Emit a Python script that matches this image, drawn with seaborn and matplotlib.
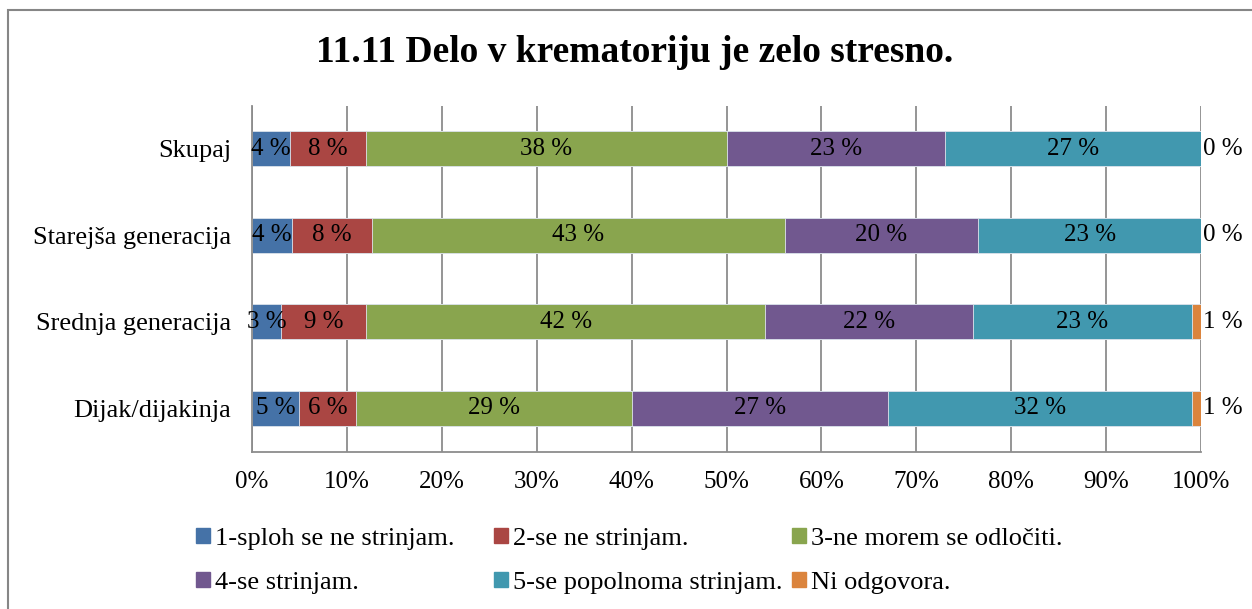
import matplotlib
matplotlib.use("Agg")
import matplotlib.pyplot as plt
import matplotlib.patches as mpatches
import numpy as np
import pandas as pd
import seaborn as sns

# data (percent of answers)
groups = ["Skupaj", "Starejša generacija", "Srednja generacija", "Dijak/dijakinja"]
answers = ["1-sploh se ne strinjam.", "2-se ne strinjam.", "3-ne morem se odločiti.",
           "4-se strinjam.", "5-se popolnoma strinjam.", "Ni odgovora."]
a1 = [4.0, 4.2, 3.1, 5.0]
a2 = [8.0, 8.4, 8.9, 6.0]
a3 = [38.0, 43.4, 42.1, 29.0]
a4 = [23.0, 20.4, 21.9, 27.0]
a5 = [27.0, 23.4, 23.0, 32.0]
a6 = [0.0, 0.0, 1.0, 1.0]
colors = ["#4572A7", "#AA4643", "#89A54E", "#71588F", "#4198AF", "#DB843D"]

sns.set_style("white")
plt.rcParams["font.family"] = ["Liberation Serif", "DejaVu Serif"]
plt.rcParams["text.color"] = "black"
plt.rcParams["xtick.color"] = "black"
plt.rcParams["ytick.color"] = "black"

df = pd.DataFrame({"group": groups, answers[0]: a1, answers[1]: a2, answers[2]: a3,
                   answers[3]: a4, answers[4]: a5, answers[5]: a6})
vals = df[answers].to_numpy()
vals = vals / vals.sum(axis=1, keepdims=True) * 100
cum = np.cumsum(vals, axis=1)

fig = plt.figure(figsize=(12.52, 6.09), dpi=100)
ax = fig.add_axes([252 / 1252, 1 - 451.5 / 609, 949 / 1252, 346 / 609])

# stacked bars: draw cumulative totals from the last series back to the first
for i in range(len(answers) - 1, -1, -1):
    sns.barplot(x=cum[:, i], y=df["group"], color=colors[i], orient="h", width=0.4,
                saturation=1, ax=ax, edgecolor="#dfe6ee", linewidth=0.6)

for r in range(len(groups)):
    for i in range(len(answers)):
        v = vals[r, i]
        txt = f"{v:.0f} %"
        if i == len(answers) - 1:
            ax.text(100.2, r, txt, ha="left", va="center", fontsize=18)
        else:
            ax.text(cum[r, i] - v / 2, r, txt, ha="center", va="center", fontsize=18)

ax.set_xlim(0, 100)
ax.set_ylim(3.5, -0.5)
ax.set_xticks(np.arange(0, 101, 10))
ax.set_xticklabels([f"{t}%" for t in range(0, 101, 10)])
ax.xaxis.grid(True, color="#8c8c8c", linewidth=1.3)
ax.set_axisbelow(True)
ax.set_xlabel("")
ax.set_ylabel("")
for s in ["top", "right"]:
    ax.spines[s].set_visible(False)
for s in ["left", "bottom"]:
    ax.spines[s].set_color("#8c8c8c")
    ax.spines[s].set_linewidth(1.3)
ax.tick_params(axis="x", length=5, color="#8c8c8c", width=1.3, labelsize=18, pad=9,
               labelcolor="black")
ax.tick_params(axis="y", which="major", length=0, labelsize=19, pad=15, labelcolor="black")
ax.set_yticks(np.arange(-0.5, 3.6, 1), minor=True)
ax.tick_params(axis="y", which="minor", length=6, color="#8c8c8c", width=1.3)

fig.text(0.507, 1 - 53 / 609, "11.11 Delo v krematoriju je zelo stresno.",
         ha="center", va="center", fontsize=27, fontweight="bold", color="black")

# legend: Excel-style grid of 3 equal columns, one small legend per entry
col_x = [196, 494, 792]
row_y = [539, 583]
for k, (c, l) in enumerate(zip(colors, answers)):
    x = col_x[k % 3] / 1252
    y = 1 - row_y[k // 3] / 609
    fig.legend([mpatches.Patch(color=c)], [l], loc="center left", bbox_to_anchor=(x, y),
               frameon=False, fontsize=19, handlelength=0.53, handleheight=0.53,
               handletextpad=0.2, borderpad=0, borderaxespad=0)

# outer chart frame
fig.patches.append(mpatches.Rectangle((7.5 / 1252, -0.1), 1.2, 1 - 10 / 609 + 0.1,
                                      transform=fig.transFigure, fill=False,
                                      edgecolor="#868686", linewidth=1.5))

fig.savefig("out.png", dpi=100)
